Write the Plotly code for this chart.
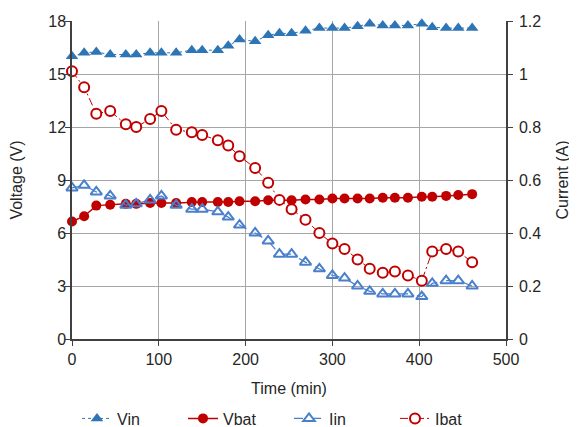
import plotly.graph_objects as go

time_min = [0, 14, 28, 44, 62, 74, 90, 103, 120, 138, 150, 168, 180, 193, 211, 226,
            239, 253, 269, 285, 300, 314, 329, 343, 358, 372, 387, 403, 415, 431, 445, 461]

vin = [16.0, 16.2, 16.25, 16.1, 16.1, 16.1, 16.2, 16.2, 16.2, 16.35, 16.35, 16.35, 16.6, 16.95, 16.85, 17.2,
       17.3, 17.3, 17.45, 17.6, 17.6, 17.6, 17.7, 17.85, 17.75, 17.75, 17.75, 17.85, 17.65, 17.6, 17.6, 17.6]

vbat = [6.65, 6.95, 7.55, 7.6, 7.65, 7.65, 7.7, 7.7, 7.7, 7.75, 7.75, 7.75, 7.75, 7.8, 7.8, 7.85,
        7.85, 7.85, 7.9, 7.9, 7.95, 7.95, 7.95, 7.95, 8.0, 8.0, 8.0, 8.05, 8.05, 8.1, 8.15, 8.2]

iin = [0.57, 0.58, 0.555, 0.54, 0.505, 0.51, 0.525, 0.54, 0.505, 0.49, 0.49, 0.48, 0.46, 0.43, 0.40, 0.37,
       0.32, 0.32, 0.29, 0.265, 0.24, 0.23, 0.20, 0.18, 0.17, 0.17, 0.17, 0.16, 0.21, 0.22, 0.22, 0.20]

ibat = [1.01, 0.95, 0.85, 0.86, 0.81, 0.80, 0.83, 0.86, 0.79, 0.78, 0.77, 0.75, 0.73, 0.69, 0.645, 0.59,
        0.525, 0.49, 0.45, 0.40, 0.36, 0.34, 0.30, 0.265, 0.25, 0.255, 0.24, 0.22, 0.33, 0.34, 0.33, 0.29]

x_ticks = [0, 100, 200, 300, 400, 500]
y_ticks = [0, 3, 6, 9, 12, 15, 18]
y2_ticks = [0, 0.2, 0.4, 0.6, 0.8, 1.0, 1.2]
y2_labels = ["0", "0.2", "0.4", "0.6", "0.8", "1", "1.2"]

BLUE = "#2E75B6"
LBLUE = "#4A7FCB"
RED = "#C00000"
FONT = "Liberation Sans, Arial, sans-serif"
TXT = "#262626"
AX = "#404040"
GRID = "#A6A6A6"

fig = go.Figure()
fig.add_trace(go.Scatter(
    x=time_min, y=vin, name="Vin", mode="lines+markers", cliponaxis=False,
    line=dict(color=BLUE, width=1, dash="dot"),
    marker=dict(symbol="triangle-up", size=11, color=BLUE)))
fig.add_trace(go.Scatter(
    x=time_min, y=vbat, name="Vbat", mode="lines+markers", cliponaxis=False,
    line=dict(color=RED, width=1.5),
    marker=dict(symbol="circle", size=10, color=RED)))
fig.add_trace(go.Scatter(
    x=time_min, y=iin, name="Iin", mode="lines+markers", cliponaxis=False, yaxis="y2",
    line=dict(color=LBLUE, width=1.25, dash="dash"),
    marker=dict(symbol="triangle-up-open", size=10, color=LBLUE, line=dict(width=2, color=LBLUE))))
fig.add_trace(go.Scatter(
    x=time_min, y=ibat, name="Ibat", mode="lines+markers", cliponaxis=False, yaxis="y2",
    line=dict(color=RED, width=1, dash="8px,3px,2px,3px"),
    marker=dict(symbol="circle", size=10, color="white", line=dict(width=2, color=RED))))

# page body has an 8px default margin, so the figure is sized to end at the window edge
fig.update_layout(
    width=569, height=419,
    margin=dict(l=64, r=71, t=13, b=88, autoexpand=False),
    paper_bgcolor="white", plot_bgcolor="white",
    font=dict(family=FONT, size=16, color=TXT),
    xaxis=dict(
        range=[0, 500], tickvals=x_ticks, ticks="outside", ticklen=5, tickcolor=AX,
        showline=True, linecolor=AX, linewidth=1.5, automargin=False,
        showgrid=True, gridcolor=GRID, gridwidth=1, zeroline=False,
        title=dict(text="Time (min)", standoff=16, font=dict(size=16))),
    yaxis=dict(
        range=[0, 18], tickvals=y_ticks, ticks="outside", ticklen=5, tickcolor=AX,
        ticklabelstandoff=-4,
        showline=True, linecolor=AX, linewidth=1.5, automargin=False,
        showgrid=True, gridcolor=GRID, gridwidth=1, zeroline=False,
        title=dict(text="Voltage (V)", standoff=23, font=dict(size=16))),
    yaxis2=dict(
        range=[0, 1.2], tickvals=y2_ticks, ticktext=y2_labels, overlaying="y", side="right",
        ticks="outside", ticklen=5, tickcolor=AX, automargin=False,
        ticklabelstandoff=3,
        showline=True, linecolor=AX, linewidth=1.5,
        showgrid=False, zeroline=False,
        title=dict(text="Current (A)", standoff=17, font=dict(size=16))),
    legend=dict(orientation="h", x=0.5, xanchor="center", y=-0.25, yanchor="middle",
                font=dict(size=16), entrywidth=61, bgcolor="rgba(0,0,0,0)"),
)

fig.write_html("out.html")
